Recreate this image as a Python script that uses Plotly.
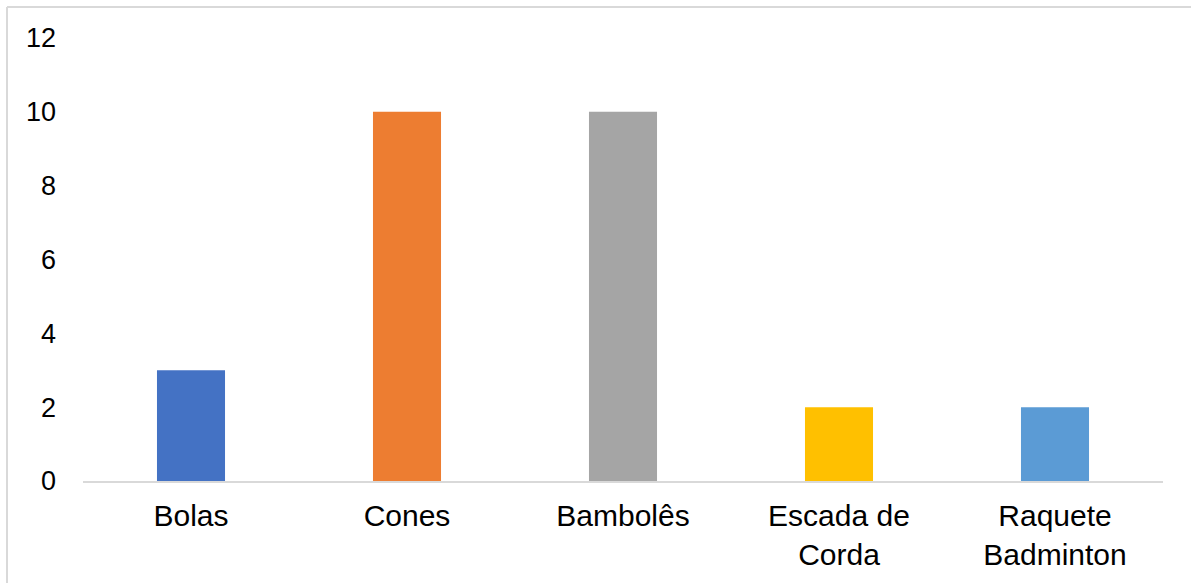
import plotly.graph_objects as go

categories = ["Bolas", "Cones", "Bambolês", "Escada de<br>Corda", "Raquete<br>Badminton"]
values = [3, 10, 10, 2, 2]
colors = ["#4472C4", "#ED7D31", "#A5A5A5", "#FFC000", "#5B9BD5"]

W, H = 1191, 583
L, R, T, B = 83, 28, 38, 102
pw, ph = W - L - R, H - T - B

fig = go.Figure(go.Bar(x=categories, y=values, marker_color=colors, marker_line_width=0))

fig.update_layout(
    width=W, height=H,
    margin=dict(l=L, r=R, t=T, b=B, pad=0),
    paper_bgcolor="white", plot_bgcolor="white",
    bargap=0.685,
    showlegend=False,
    font=dict(family="Liberation Sans, Arial", size=24, color="#000000"),
    xaxis=dict(showgrid=False, showline=True, linecolor="#d9d9d9", linewidth=2,
               ticks="", tickfont=dict(size=30), ticklabelstandoff=7, fixedrange=True),
    yaxis=dict(range=[0, 12], tickvals=[0, 2, 4, 6, 8, 10, 12], showgrid=False,
               zeroline=False, showline=False, ticks="", tickfont=dict(size=27),
               ticklabelstandoff=26),
    shapes=[
        dict(type="line", xref="paper", yref="paper",
             x0=(7 - L) / pw, x1=(W + 10 - L) / pw, y0=(H - B - 7) / ph, y1=(H - B - 7) / ph,
             line=dict(color="#d9d9d9", width=2)),
        dict(type="line", xref="paper", yref="paper",
             x0=(7 - L) / pw, x1=(7 - L) / pw, y0=(H - B - 7) / ph, y1=-(B + 10) / ph,
             line=dict(color="#d9d9d9", width=2)),
    ],
)

fig.write_html("out.html")
